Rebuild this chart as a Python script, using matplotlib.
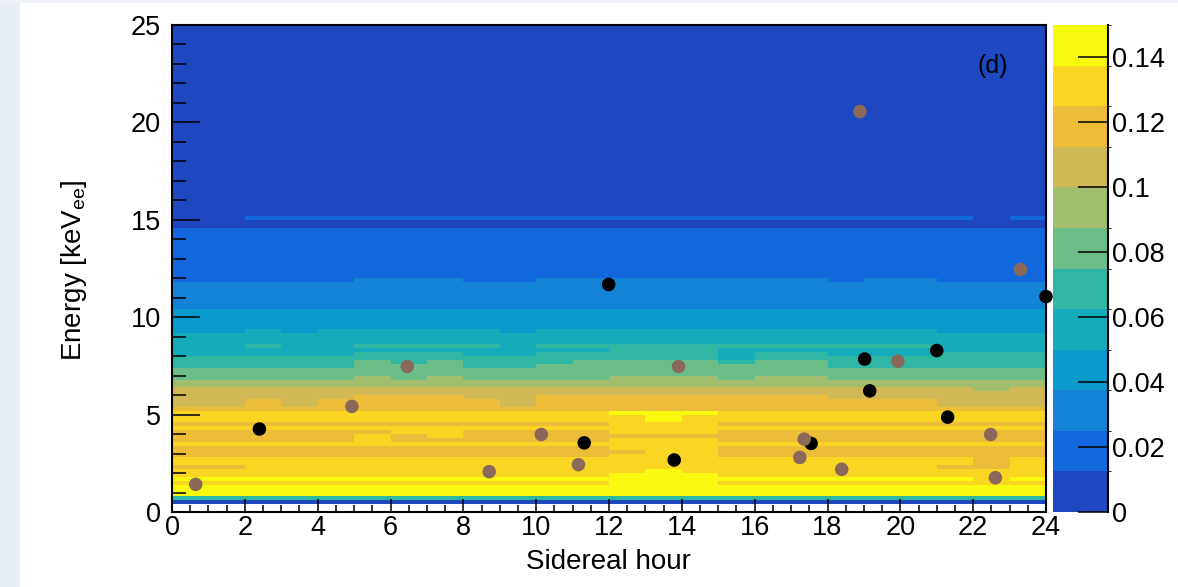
import numpy as np
import matplotlib
matplotlib.use("Agg")
import matplotlib.pyplot as plt
from matplotlib.colors import ListedColormap, BoundaryNorm
from matplotlib.patches import Rectangle
from matplotlib.lines import Line2D
from matplotlib.ticker import MultipleLocator

plt.rcParams['font.family'] = ['Liberation Sans', 'DejaVu Sans']
plt.rcParams['mathtext.fontset'] = 'custom'
plt.rcParams['mathtext.rm'] = 'Liberation Sans'
plt.rcParams['mathtext.it'] = 'Liberation Sans:italic'

# ---------------- data ----------------
hour_edges = list(range(0, 25))          # 1-hour sidereal bins
energy_max = 25.0
energy_bin_width = 0.2                   # keV

# discrete colour levels (z step 0.0125 from 0 to 0.15)
level_step = 0.0125
palette = ['#1d48bf', '#1167db', '#1483d5', '#0a9acc', '#14abbb', '#2fb7a4',
           '#6cbe88', '#a0be6e', '#d1b856', '#edbd3a', '#fad524', '#f9f90f']
cbar_ticks = [0, 0.02, 0.04, 0.06, 0.08, 0.10, 0.12, 0.14]
cbar_ticklabels = ['0', '0.02', '0.04', '0.06', '0.08', '0.1', '0.12', '0.14']

# cell levels per energy row (bottom row = 0-0.2 keV), one char per hour bin
# '.' = empty bin, hex digit = colour level
levels_low = [
    "........................",  # 0.0-0.2
    "........................",  # 0.2-0.4
    "000000000000000000000000",  # 0.4
    "555555555555555555555555",  # 0.6
    "bbbbbbbbbbbbbbbbbbbbbbbb",  # 0.8
    "bbbbbbbbbbbbbbbbbbbbbbbb",  # 1.0
    "bbbbbbbbbbbbbbbbbbbbbbbb",  # 1.2
    "aaaaaaaaaaaabbbaaaaaaaaa",  # 1.4
    "bbbbbbbbbbbbbbbbbbbbbbab",  # 1.6
    "aaaaaaaaaaaabbbaaaaaaaaa",  # 1.8
    "aaaaaaaaaaaaabaaaaaaaaaa",  # 2.0
    "99aaaaaaaaaaaaaaaaaaa99a",  # 2.2
    "aaaaaaaaaaaaaaaaaaaaaa9a",  # 2.4
    "aaaaaaaaaaaaaaaaaaaaaa9a",  # 2.6
    "999999999999aaa999999999",  # 2.8
    "9999999999999aa999999999",  # 3.0
    "999999999999aaa999999999",  # 3.2
    "aaaaaaaaaaaaaaaaaaaaaaaa",  # 3.4
    "99999a999999aaa999999999",  # 3.6
    "99999a9a9999999999999999",  # 3.8
    "999999aa9999aaa999999999",  # 4.0
    "aaaaaaaaaaaaaaaaaaaaaaaa",  # 4.2
    "999999999999aaa999999999",  # 4.4
    "aaaaaaaaaaaaabaaaaaaaaaa",  # 4.6
    "aaaaaaaaaaaaabaaaaaaaaaa",  # 4.8
    "aaaaaaaaaaaabbbaaaaaaaaa",  # 5.0
]
levels_mid = [
    "999999999999999999999999",  # 5.2
    "889899999899999999999888",  # 5.4
    "889899999899999999999888",  # 5.6
    "888889998899999999888888",  # 5.8
    "888888888888888888888888",  # 6.0
    "888888888888888888888878",  # 6.2
    "777777777777777777777777",  # 6.4
    "777777777777777777777777",  # 6.6
    "666667676666777677666666",  # 6.8
    "666666666666666666666666",  # 7.0
    "666666666666666666666666",  # 7.2
    "555556665566666666555555",  # 7.4
    "555556565556666566555555",  # 7.6
    "555555555555555455555555",  # 7.8
    "444445554455555455444555",  # 8.0
    "444444444444555444444444",  # 8.2
    "445445555455555555555444",  # 8.4
    "444444444444444444444444",  # 8.6
    "444444444444444444444444",  # 8.8
    "444444444444444444444444",  # 9.0
    "334344444344444444444333",  # 9.2
]
levels_high = [
    "333333333333333333333333",  # 9.4
    "333333333333333333333333",  # 9.6
    "333333333333333333333333",  # 9.8
    "333333333333333333333333",  # 10.0
    "333333333333333333333333",  # 10.2
    "222222222222222222222222",  # 10.4
    "222222222222222222222222",  # 10.6
    "222222222222222222222222",  # 10.8
    "222222222222222222222222",  # 11.0
    "222222222222222222222222",  # 11.2
    "222222222222222222222222",  # 11.4
    "222222222222222222222222",  # 11.6
    "111112221122222222122111",  # 11.8
    "111111111111111111111111",  # 12.0
    "111111111111111111111111",  # 12.2
    "111111111111111111111111",  # 12.4
    "111111111111111111111111",  # 12.6
    "111111111111111111111111",  # 12.8
    "111111111111111111111111",  # 13.0
    "111111111111111111111111",  # 13.2
    "111111111111111111111111",  # 13.4
    "111111111111111111111111",  # 13.6
    "111111111111111111111111",  # 13.8
    "111111111111111111111111",  # 14.0
    "111111111111111111111111",  # 14.2
    "111111111111111111111111",  # 14.4
    "000000000000000000000000",  # 14.6
    "000000000000000000000000",  # 14.8
    "001111111111111111111101",  # 15.0
]
levels_top = ["000000000000000000000000"] * 49   # 15.2 - 25.0 keV: lowest level everywhere

# events
black_hour = [2.40, 11.32, 11.99, 13.79, 17.55, 19.02, 19.16, 21.00, 21.30, 24.00]
black_energy = [4.26, 3.55, 11.68, 2.67, 3.52, 7.85, 6.22, 8.29, 4.87, 11.06]
brown_hour = [0.65, 4.94, 6.46, 8.71, 10.14, 11.16, 13.91, 17.24, 17.36, 18.39,
              18.89, 19.93, 22.48, 22.61, 23.30]
brown_energy = [1.42, 5.42, 7.47, 2.07, 3.98, 2.43, 7.47, 2.80, 3.74, 2.19,
                20.56, 7.74, 3.98, 1.76, 12.45]

# ---------------- build ----------------
cell_levels = levels_low + levels_mid + levels_high + levels_top


def decode(ch):
    return np.nan if ch == '.' else (int(ch, 16) + 0.5) * level_step


Z = np.ma.masked_invalid(np.array([[decode(c) for c in row] for row in cell_levels]))
energy_edges = np.linspace(0, energy_max, len(cell_levels) + 1)

W, H = 1178, 587
fig = plt.figure(figsize=(W / 100, H / 100), dpi=100)
fig.patch.set_facecolor('white')


def fx(px):
    return px / W


def fy(py):
    return 1 - py / H


# slide background strips
fig.patches.append(Rectangle((0, 0), fx(20), 1, transform=fig.transFigure,
                             facecolor='#e8eef6', edgecolor='none', zorder=-5))
fig.patches.append(Rectangle((0, fy(3)), 1, 3 / H, transform=fig.transFigure,
                             facecolor='#eef2f8', edgecolor='none', zorder=-5))

ax = fig.add_axes([fx(172), fy(512), fx(1046) - fx(172), fy(25) - fy(512)])
cmap = ListedColormap(palette)
norm = BoundaryNorm(np.linspace(0, level_step * len(palette), len(palette) + 1), cmap.N)
mesh = ax.pcolormesh(hour_edges, energy_edges, Z, cmap=cmap, norm=norm,
                     shading='flat', antialiased=False, linewidth=0)

ax.scatter(black_hour, black_energy, s=95, c='black', edgecolors='none',
           zorder=4, clip_on=False)
ax.scatter(brown_hour, brown_energy, s=95, c='#8a695a', edgecolors='none',
           zorder=5, clip_on=False)

ax.set_xlim(0, 24)
ax.set_ylim(0, 25)
ax.set_xticks(range(0, 25, 2))
ax.set_yticks(range(0, 26, 5))
ax.xaxis.set_minor_locator(MultipleLocator(0.5))
ax.yaxis.set_minor_locator(MultipleLocator(1))
ax.tick_params(axis='x', which='major', direction='in', length=9.5, width=1.1,
               labelsize=19.5, pad=2, color='black')
ax.tick_params(axis='x', which='minor', direction='in', length=5, width=1.1)
ax.tick_params(axis='y', which='major', direction='in', length=20, width=1.1,
               labelsize=19.5, pad=8)
ax.tick_params(axis='y', which='minor', direction='in', length=10, width=1.1)
for sp in ax.spines.values():
    sp.set_linewidth(1.5)
    sp.set_zorder(6)

ax.text(22.55, 22.9, '(d)', fontsize=18, ha='center', va='center')

# colour bar
cax = fig.add_axes([fx(1053), fy(512), fx(1108) - fx(1053), fy(25) - fy(512)])
cb = fig.colorbar(mesh, cax=cax, ticks=cbar_ticks)
cb.outline.set_visible(False)
cax.yaxis.set_ticks_position('right')
cax.set_yticklabels(cbar_ticklabels)
cax.tick_params(direction='in', length=21.5, width=1.1, labelsize=19.5, pad=3)
cax.add_line(Line2D([1, 1], [0, 1], transform=cax.transAxes, color='black',
                    lw=1.5, clip_on=False))

fig.text(fx(608), fy(562), 'Sidereal hour', ha='center', va='center', fontsize=20)
fig.text(fx(74), fy(270), r'Energy [keV$_{\mathregular{ee}}$]', rotation=90,
         ha='center', va='center', fontsize=20)

fig.savefig('out.png', dpi=100)
